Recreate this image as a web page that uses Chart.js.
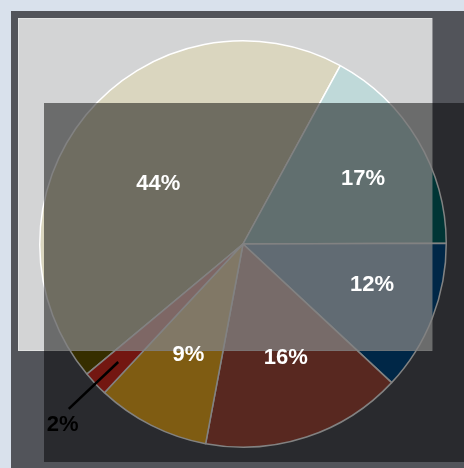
<!DOCTYPE html>
<html>
<head>
<meta charset="utf-8">
<script src="https://cdn.jsdelivr.net/npm/chart.js@4.4.1/dist/chart.umd.min.js"></script>
<style>
  html, body { margin: 0; padding: 0; background: #d9e1ec; }
  #wrap { position: relative; width: 464px; height: 468px; }
</style>
</head>
<body>
<div id="wrap"><canvas id="c" width="464" height="468"></canvas></div>
<script>
// ---- data ----
const categories = ["A", "B", "C", "D", "E", "F"];
const values = [44, 17, 12, 16, 9, 2];
const labelsText = ["44%", "17%", "12%", "16%", "9%", "2%"];

// ---- styles ----
const sliceColors = ["rgb(107,91,0)", "rgb(0,105,105)", "rgb(0,78,140)", "rgb(172,80,64)", "rgb(250,180,36)", "rgb(225,45,35)"];
const labelRadius = [0.515, 0.675, 0.664, 0.593, 0.603, 1.255];
const labelAngleShift = [-3.5, 1.9, -4.4, -2.6, -0.3, -1.6];
const labelColors = ["#fff", "#fff", "#fff", "#fff", "#fff", "#000"];
const outsideIndex = 5;

const decor = {
  id: 'decor',
  beforeDraw(chart) {
    const ctx = chart.ctx;
    ctx.save();
    ctx.fillStyle = '#d9e1ec';
    ctx.fillRect(0, 0, chart.width, chart.height);
    ctx.fillStyle = '#52545a';
    ctx.fillRect(11, 11, chart.width - 11, chart.height - 11);
    ctx.restore();
  },
  afterDatasetsDraw(chart) {
    const ctx = chart.ctx;
    ctx.save();
    // light overlay
    ctx.fillStyle = 'rgba(255,255,255,0.75)';
    ctx.fillRect(18, 18, 414, 333);
    ctx.strokeStyle = 'rgba(255,255,255,0.35)';
    ctx.lineWidth = 1;
    ctx.strokeRect(18.5, 18.5, 414, 332);
    // dark overlay
    ctx.fillStyle = 'rgba(0,0,0,0.49)';
    ctx.fillRect(44, 103, chart.width - 44, 359);

    // labels
    const meta = chart.getDatasetMeta(0);
    ctx.font = 'bold 22px "Liberation Sans", Arial, sans-serif';
    ctx.textAlign = 'center';
    ctx.textBaseline = 'middle';
    meta.data.forEach((arc, i) => {
      const p = arc.getProps(['x', 'y', 'startAngle', 'endAngle', 'outerRadius'], true);
      const mid = (p.startAngle + p.endAngle) / 2 + labelAngleShift[i] * Math.PI / 180;
      const r = p.outerRadius * labelRadius[i];
      const lx = p.x + Math.cos(mid) * r;
      const ly = p.y + Math.sin(mid) * r;
      if (i === outsideIndex) {
        const a = (p.startAngle + p.endAngle) / 2;
        ctx.strokeStyle = '#000';
        ctx.lineWidth = 2.5;
        ctx.beginPath();
        ctx.moveTo(p.x + Math.cos(a) * p.outerRadius * 0.845, p.y + Math.sin(a) * p.outerRadius * 0.845);
        ctx.lineTo(p.x + Math.cos(a) * p.outerRadius * 1.18, p.y + Math.sin(a) * p.outerRadius * 1.18);
        ctx.stroke();
      }
      ctx.fillStyle = labelColors[i];
      ctx.fillText(labelsText[i], lx, ly + 1);
    });
    ctx.restore();
  }
};

new Chart(document.getElementById('c'), {
  type: 'pie',
  data: {
    labels: categories,
    datasets: [{
      data: values,
      backgroundColor: sliceColors,
      borderColor: '#ffffff',
      borderWidth: 1.5
    }]
  },
  options: {
    responsive: false,
    animation: false,
    devicePixelRatio: 1,
    rotation: -129.8,
    layout: { padding: { left: 39, right: 17, top: 39, bottom: 19 } },
    plugins: {
      legend: { display: false },
      tooltip: { enabled: false }
    }
  },
  plugins: [decor]
});
</script>
</body>
</html>
